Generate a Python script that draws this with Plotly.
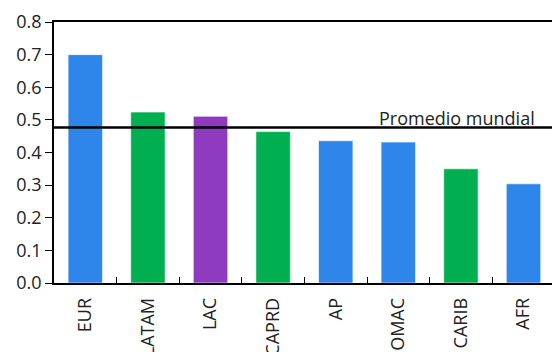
import plotly.graph_objects as go

categories = ["EUR", "LATAM", "LAC", "CAPRD", "AP", "OMAC", "CARIB", "AFR"]
values = [0.70, 0.524, 0.511, 0.464, 0.436, 0.432, 0.35, 0.304]
groups = ["blue", "green", "purple", "green", "blue", "blue", "green", "blue"]
world_avg = 0.477
avg_label = "Promedio mundial"

palette = {"blue": "#2E86EA", "green": "#00B050", "purple": "#8E3BC0"}
colors = [palette[g] for g in groups]

fig = go.Figure()
fig.add_trace(go.Bar(
    x=categories, y=values, width=0.55,
    marker=dict(color=colors, line=dict(color="rgba(255,255,255,0.6)", width=1)),
    showlegend=False,
))
fig.add_shape(type="line", xref="paper", yref="y", x0=0, x1=1,
              y0=world_avg, y1=world_avg, line=dict(color="black", width=2.5))
fig.add_annotation(x=5.94, y=world_avg, xref="x", yref="y", text=avg_label,
                   showarrow=False, yanchor="bottom", yshift=-5,
                   font=dict(family="Open Sans", size=18, color="#222"))

font = dict(family="Open Sans", size=18, color="#222")
fig.update_layout(
    width=552, height=352,
    margin=dict(l=54, r=0, t=22, b=69, autoexpand=False),
    plot_bgcolor="white", paper_bgcolor="white",
    font=font, bargap=0.45,
    xaxis=dict(type="category", range=[-0.5, 7.455], tickson="boundaries",
               ticks="inside", ticklen=6, tickcolor="black",
               showline=True, linecolor="black", linewidth=1.5, mirror=True,
               tickangle=-90, showgrid=False, tickfont=font,
               ticklabelstandoff=6, automargin=False),
    yaxis=dict(range=[0, 0.8], dtick=0.1, tickformat=".1f",
               ticks="outside", ticklen=7, tickcolor="black",
               showline=True, linecolor="black", linewidth=1.5,
               showgrid=False, zeroline=False, tickfont=font,
               automargin=False),
)
fig.write_html("out.html")
